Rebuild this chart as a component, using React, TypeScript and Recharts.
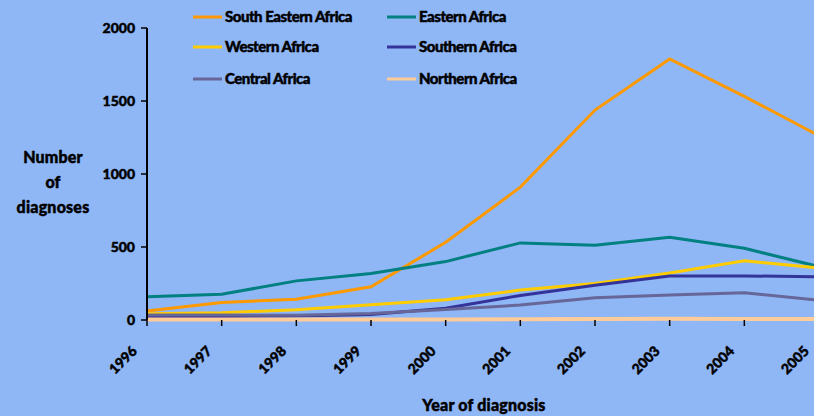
import React from "react";
import { LineChart, Line, XAxis, YAxis } from "recharts";

// Diagnoses per year, by region of origin
const years = ["1996", "1997", "1998", "1999", "2000", "2001", "2002", "2003", "2004", "2005"];
const southEasternAfrica = [62, 120, 142, 228, 532, 910, 1438, 1788, 1532, 1262];
const easternAfrica = [160, 176, 268, 318, 400, 528, 512, 566, 491, 366];
const westernAfrica = [42, 50, 70, 104, 138, 205, 250, 322, 406, 356];
const southernAfrica = [24, 24, 28, 38, 80, 168, 238, 302, 302, 296];
const centralAfrica = [34, 34, 32, 45, 72, 102, 152, 172, 186, 136];
const northernAfrica = [4, 4, 3, 4, 4, 5, 7, 9, 7, 7];
const yTicks = [0, 500, 1000, 1500, 2000];

const series = [
  { key: "sea", name: "South Eastern Africa", values: southEasternAfrica, color: "#FF9900" },
  { key: "ea", name: "Eastern Africa", values: easternAfrica, color: "#008080" },
  { key: "wa", name: "Western Africa", values: westernAfrica, color: "#FFCC00" },
  { key: "sa", name: "Southern Africa", values: southernAfrica, color: "#333399" },
  { key: "ca", name: "Central Africa", values: centralAfrica, color: "#666699" },
  { key: "na", name: "Northern Africa", values: northernAfrica, color: "#FFCC99" },
];

const data = years.map((year, i) => {
  const row: Record<string, string | number> = { year };
  series.forEach((s) => {
    row[s.key] = s.values[i];
  });
  return row;
});

const FONT = "Lato, 'DejaVu Sans', sans-serif";
const BG = "#8FB6F5";

// Heavy black label style used throughout
const heavy = {
  fontFamily: FONT,
  fontWeight: 900,
  fill: "#000",
  stroke: "#000",
  strokeWidth: 0.45,
} as const;

const XTick = (props: any) => {
  const { x, y, payload } = props;
  const ax = x - 9;
  const ay = y + 24;
  return (
    <text x={ax} y={ay} transform={`rotate(-45, ${ax}, ${ay})`} textAnchor="end" fontSize={14} {...heavy}>
      {payload.value}
    </text>
  );
};

const YTick = (props: any) => {
  const { x, y, payload } = props;
  return (
    <text x={x} y={y} dy={5} textAnchor="end" fontSize={14} {...heavy}>
      {payload.value}
    </text>
  );
};

// Two-column legend drawn in the chart's own coordinates
const legendCols = [193, 387];
const legendRows = [17, 47, 79];

export default function App() {
  return (
    <div
      style={{
        position: "fixed",
        left: 0,
        top: 0,
        width: 814,
        height: 416,
        overflow: "hidden",
        background: BG,
      }}
    >
      <LineChart
        width={830}
        height={416}
        data={data}
        margin={{ top: 28, right: 11, left: 0, bottom: 0 }}
        style={{ background: BG }}
      >
        <XAxis
          dataKey="year"
          height={96}
          axisLine={false}
          tickLine={{ stroke: "#000", strokeWidth: 1.5 }}
          tickSize={6}
          tick={<XTick />}
          interval={0}
        />
        <YAxis
          width={147}
          domain={[0, 2000]}
          ticks={yTicks}
          axisLine={{ stroke: "#000", strokeWidth: 2 }}
          tickLine={{ stroke: "#000", strokeWidth: 1.5 }}
          tickSize={6}
          tickMargin={6}
          tick={<YTick />}
        />
        {series.map((s) => (
          <Line
            key={s.key}
            dataKey={s.key}
            name={s.name}
            type="linear"
            stroke={s.color}
            strokeWidth={s.key === "na" ? 4 : 3}
            dot={false}
            activeDot={false}
            isAnimationActive={false}
          />
        ))}
        <g>
          {series.map((s, i) => {
            const cx = legendCols[i % 2];
            const cy = legendRows[Math.floor(i / 2)];
            return (
              <g key={s.key}>
                <line x1={cx} x2={cx + 29} y1={cy} y2={cy} stroke={s.color} strokeWidth={3} />
                <text x={cx + 32} y={cy + 5} fontSize={15} letterSpacing={-0.5} {...heavy}>
                  {s.name}
                </text>
              </g>
            );
          })}
        </g>
        <text textAnchor="middle" fontSize={16} letterSpacing={0.2} {...heavy}>
          <tspan x={53} y={163}>Number</tspan>
          <tspan x={53} y={188}>of</tspan>
          <tspan x={53} y={213}>diagnoses</tspan>
        </text>
        <text x={484} y={411} textAnchor="middle" fontSize={16} letterSpacing={0.2} {...heavy}>
          Year of diagnosis
        </text>
      </LineChart>
    </div>
  );
}
